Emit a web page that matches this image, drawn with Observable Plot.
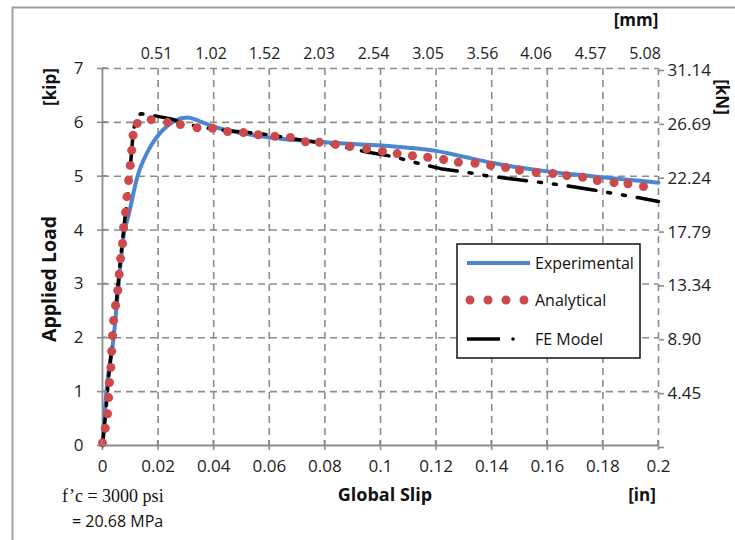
<!DOCTYPE html>
<html><head><meta charset="utf-8">
<script src="https://cdn.jsdelivr.net/npm/d3@7"></script>
<script src="https://cdn.jsdelivr.net/npm/@observablehq/plot@0.6"></script>
<style>html,body{margin:0;padding:0;background:#fff;} svg{display:block}</style>
</head><body><div id="chart"></div>
<script>
// ---- tick values and labels ----
const slipTicks = [0, 0.02, 0.04, 0.06, 0.08, 0.1, 0.12, 0.14, 0.16, 0.18, 0.2];
const slipTickLabels = ["0", "0.02", "0.04", "0.06", "0.08", "0.1", "0.12", "0.14", "0.16", "0.18", "0.2"];
const mmTicks = [0.51, 1.02, 1.52, 2.03, 2.54, 3.05, 3.56, 4.06, 4.57, 5.08];
const mmTickLabels = ["0.51", "1.02", "1.52", "2.03", "2.54", "3.05", "3.56", "4.06", "4.57", "5.08"];
const loadTicks = [0, 1, 2, 3, 4, 5, 6, 7];
const loadTickLabels = ["0", "1", "2", "3", "4", "5", "6", "7"];
const kNTickLabels = ["", "4.45", "8.90", "13.34", "17.79", "22.24", "26.69", "31.14"];

// ---- series ----
const seriesNames = ["Experimental", "Analytical", "FE Model"];

const expSlip = [0, 0.0014, 0.004, 0.0058, 0.0079, 0.009, 0.0126, 0.0165, 0.0216, 0.026, 0.0306, 0.035, 0.04, 0.05, 0.06, 0.07, 0.08, 0.09, 0.1, 0.11, 0.12, 0.13, 0.14, 0.15, 0.16, 0.17, 0.18, 0.19, 0.2];
const expLoad = [0, 1.0, 2.0, 3.0, 4.0, 4.2, 5.0, 5.48, 5.85, 6.03, 6.09, 6.02, 5.92, 5.8, 5.72, 5.67, 5.63, 5.6, 5.57, 5.53, 5.47, 5.36, 5.25, 5.16, 5.09, 5.03, 4.98, 4.93, 4.88];

const anaSlip = [0, 0.001, 0.0018, 0.0022, 0.0025, 0.003, 0.0033, 0.0036, 0.004, 0.0047, 0.0055, 0.006, 0.0065, 0.0072, 0.0076, 0.0083, 0.0088, 0.0094, 0.01, 0.0105, 0.011, 0.0125, 0.0175, 0.0234, 0.028, 0.034, 0.0396, 0.045, 0.0507, 0.056, 0.062, 0.0676, 0.073, 0.078, 0.0838, 0.089, 0.095, 0.1007, 0.106, 0.1115, 0.117, 0.1227, 0.128, 0.134, 0.1396, 0.145, 0.15, 0.156, 0.162, 0.167, 0.1727, 0.178, 0.184, 0.189, 0.1946];
const anaLoad = [0.05, 0.32, 0.59, 0.89, 1.17, 1.45, 1.75, 2.04, 2.32, 2.6, 2.88, 3.18, 3.47, 3.75, 4.05, 4.33, 4.62, 4.92, 5.2, 5.48, 5.76, 5.98, 6.05, 6.0, 5.96, 5.9, 5.89, 5.83, 5.81, 5.77, 5.74, 5.72, 5.64, 5.63, 5.59, 5.55, 5.51, 5.46, 5.42, 5.38, 5.35, 5.31, 5.26, 5.24, 5.2, 5.16, 5.11, 5.07, 5.05, 5.01, 4.98, 4.92, 4.88, 4.86, 4.81];

const feSlip = [0, 0.001, 0.0022, 0.0036, 0.0054, 0.0065, 0.0083, 0.009, 0.01, 0.011, 0.0119, 0.0137, 0.019, 0.025, 0.029, 0.04, 0.057, 0.068, 0.0845, 0.095, 0.105, 0.112, 0.1216, 0.13, 0.138, 0.149, 0.16, 0.166, 0.176, 0.185, 0.193, 0.2];
const feLoad = [0, 0.52, 1.26, 1.95, 2.88, 3.47, 4.33, 4.55, 5.16, 5.79, 6.07, 6.16, 6.12, 6.06, 5.98, 5.87, 5.79, 5.7, 5.57, 5.45, 5.36, 5.26, 5.14, 5.08, 5.01, 4.94, 4.87, 4.83, 4.75, 4.67, 4.6, 4.53];

const expData = expSlip.map((x, i) => ({x, y: expLoad[i]}));
const anaData = anaSlip.map((x, i) => ({x, y: anaLoad[i]}));
const feData = feSlip.map((x, i) => ({x, y: feLoad[i]}));

const BLUE = "#4a87d0", RED = "#cc4a4c", BLACK = "#000";
const GRID = "#8c8c8c";
const FONT = "'Open Sans', 'Noto Sans', sans-serif";
const SERIF = "'Liberation Serif', 'DejaVu Serif', 'Times New Roman', serif";
const fmt = (ticks, labels) => d => labels[ticks.findIndex(t => Math.abs(t - d) < 1e-9)] ?? "";

const W = 735, H = 540;
const chart = Plot.plot({
  width: W, height: H,
  marginLeft: 102, marginRight: 77, marginTop: 68, marginBottom: 95,
  style: {fontFamily: FONT, background: "#fff", overflow: "visible"},
  x: {type: "linear", domain: [0, 0.2]},
  y: {type: "linear", domain: [0, 7]},
  marks: [
    // dashed grid
    Plot.ruleX(slipTicks.slice(1), {stroke: GRID, strokeWidth: 1.6, strokeDasharray: "7,5"}),
    Plot.ruleY(loadTicks.slice(1), {stroke: GRID, strokeWidth: 1.6, strokeDasharray: "7,5"}),
    // solid axes
    Plot.ruleX([0], {stroke: GRID, strokeWidth: 1.8}),
    Plot.ruleY([0], {stroke: GRID, strokeWidth: 1.8}),
    Plot.axisX({anchor: "bottom", ticks: slipTicks, tickFormat: fmt(slipTicks, slipTickLabels), tickSize: 5, tickPadding: 9, stroke: GRID, strokeWidth: 1.6, fontSize: 17, fill: "#222", label: null}),
    Plot.axisY({anchor: "left", ticks: loadTicks, tickFormat: fmt(loadTicks, loadTickLabels), tickSize: 5, tickPadding: 14, stroke: GRID, strokeWidth: 1.6, fontSize: 17, fill: "#222", label: null}),
    Plot.axisY({anchor: "right", ticks: loadTicks, tickFormat: fmt(loadTicks, kNTickLabels), tickSize: 5, tickPadding: 4, stroke: GRID, strokeWidth: 1.6, fontSize: 17, fill: "#222", label: null, dy: 2}),
    // series
    Plot.line(expData, {x: "x", y: "y", curve: "monotone-x", stroke: BLUE, strokeWidth: 4}),
    Plot.line(feData, {x: "x", y: "y", stroke: BLACK, strokeWidth: 3.5, strokeDasharray: "28,12,3,12,3,12"}),
    Plot.dot(anaData, {x: "x", y: "y", r: 4.5, fill: RED, stroke: "none"})
  ]
});

const svg = d3.select(chart);
const xs = chart.scale("x"), ys = chart.scale("y");
// inward half of crossing ticks
loadTicks.forEach(t => svg.append("line").attr("x1", xs.apply(0)).attr("x2", xs.apply(0) + 5)
  .attr("y1", ys.apply(t)).attr("y2", ys.apply(t)).attr("stroke", GRID).attr("stroke-width", 1.6));
slipTicks.forEach(t => svg.append("line").attr("x1", xs.apply(t)).attr("x2", xs.apply(t))
  .attr("y1", ys.apply(0)).attr("y2", ys.apply(0) - 5).attr("stroke", GRID).attr("stroke-width", 1.6));

// outer frame (left & top)
svg.insert("path", ":first-child").attr("d", `M12.5,${H} V7.5 H${W}`).attr("fill", "none").attr("stroke", "#a0a0a0").attr("stroke-width", 2);

const txt = (x, y, s, o = {}) => {
  const t = svg.append("text").attr("x", x).attr("y", y).text(s)
    .attr("font-family", o.family || FONT)
    .style("font-family", o.family || FONT).style("font-size", (o.size || 17) + "px")
    .style("font-weight", o.weight || "normal").attr("fill", o.fill || "#111")
    .attr("text-anchor", o.anchor || "start");
  if (o.rotate) t.attr("transform", `rotate(${o.rotate},${x},${y})`);
  return t;
};

// secondary top axis in mm (its own range, as in the source figure)
const mmScale = d3.scaleLinear([0, 5.08], [xs.apply(0), xs.apply(0.2) - 13]);
mmTicks.forEach((m, i) => txt(mmScale(m), 59, mmTickLabels[i], {size: 16, anchor: "middle", fill: "#222"}));

txt(56, 279, "Applied Load", {weight: "bold", size: 19.5, anchor: "middle", rotate: -90});
txt(56, 87, "[kip]", {weight: "bold", size: 17, anchor: "middle", rotate: -90});
txt(716, 97, "[kN]", {weight: "bold", size: 17, anchor: "middle", rotate: 90});
txt(636, 26, "[mm]", {weight: "bold", size: 17, anchor: "middle"});
txt(642, 501, "[in]", {weight: "bold", size: 17, anchor: "middle"});
txt(385, 501, "Global Slip", {weight: "bold", size: 18, anchor: "middle"});
txt(62, 502, "f\u2019c = 3000 psi", {family: SERIF, size: 18});
txt(72, 527, "= 20.68 MPa", {size: 16});

// legend
const lg = svg.append("g");
lg.append("rect").attr("x", 457).attr("y", 244).attr("width", 183).attr("height", 114)
  .attr("fill", "#fff").attr("stroke", "#111").attr("stroke-width", 1.5);
const rows = [263, 300, 339];
lg.append("line").attr("x1", 467).attr("x2", 530).attr("y1", rows[0]).attr("y2", rows[0]).attr("stroke", BLUE).attr("stroke-width", 4);
[470, 488, 506, 524].forEach(cx => lg.append("circle").attr("cx", cx).attr("cy", rows[1]).attr("r", 4.5).attr("fill", RED));
lg.append("line").attr("x1", 467).attr("x2", 500).attr("y1", rows[2]).attr("y2", rows[2]).attr("stroke", BLACK).attr("stroke-width", 3.5);
lg.append("circle").attr("cx", 513).attr("cy", rows[2]).attr("r", 1.8).attr("fill", BLACK);
seriesNames.forEach((n, i) => txt(535, rows[i] + 6, n, {size: 16}));

document.getElementById("chart").appendChild(chart);
</script>
</body></html>
